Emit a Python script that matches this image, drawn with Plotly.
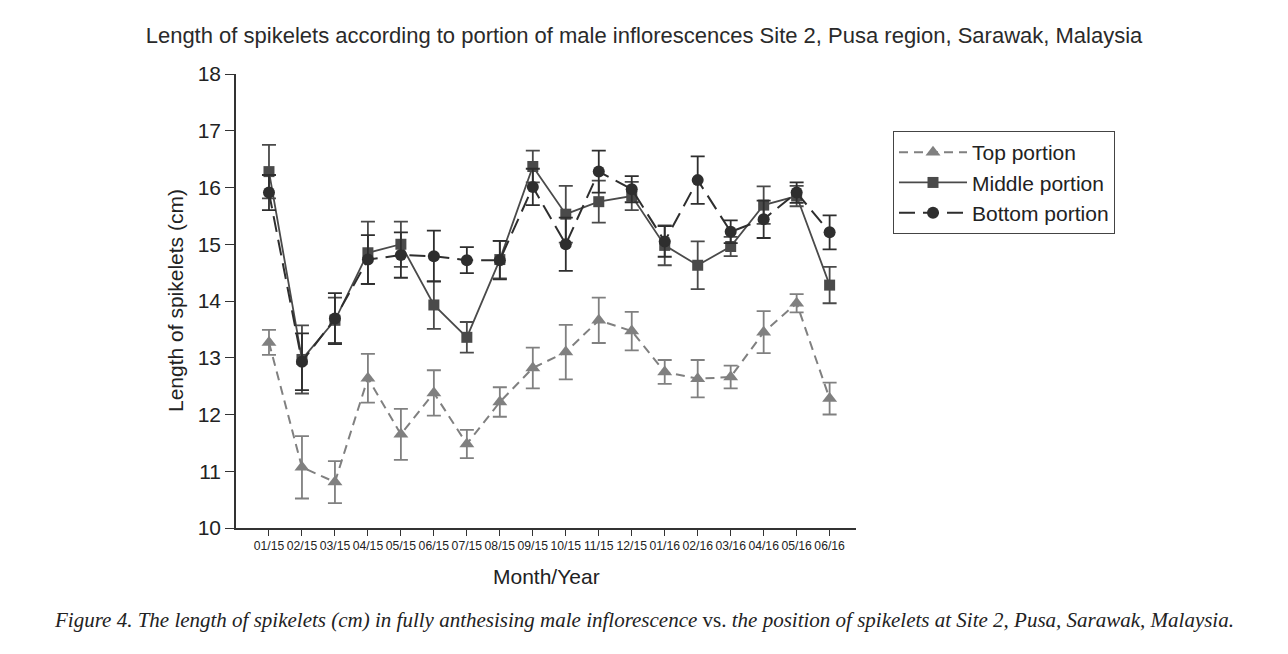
import plotly.graph_objects as go

months = ["01/15", "02/15", "03/15", "04/15", "05/15", "06/15", "07/15", "08/15", "09/15",
          "10/15", "11/15", "12/15", "01/16", "02/16", "03/16", "04/16", "05/16", "06/16"]

top = [13.27, 11.07, 10.81, 12.64, 11.65, 12.38, 11.48, 12.22, 12.82,
       13.10, 13.66, 13.47, 12.75, 12.63, 12.66, 13.45, 13.96, 12.28]
top_err = [0.22, 0.55, 0.37, 0.43, 0.45, 0.40, 0.25, 0.26, 0.36,
           0.48, 0.40, 0.34, 0.21, 0.33, 0.20, 0.37, 0.16, 0.28]

mid = [16.28, 12.97, 13.66, 14.85, 15.00, 13.93, 13.36, 14.73, 16.37,
       15.53, 15.75, 15.85, 14.98, 14.63, 14.96, 15.69, 15.85, 14.28]
mid_err = [0.47, 0.60, 0.40, 0.55, 0.40, 0.42, 0.27, 0.33, 0.28,
           0.50, 0.37, 0.25, 0.35, 0.42, 0.17, 0.33, 0.18, 0.32]

bot = [15.91, 12.93, 13.69, 14.73, 14.81, 14.79, 14.72, 14.72, 16.01,
       15.00, 16.28, 15.97, 15.05, 16.13, 15.22, 15.44, 15.91, 15.21]
bot_err = [0.31, 0.50, 0.45, 0.43, 0.40, 0.45, 0.23, 0.34, 0.32,
           0.47, 0.37, 0.23, 0.27, 0.42, 0.20, 0.33, 0.18, 0.30]

yticks = [10, 11, 12, 13, 14, 15, 16, 17, 18]

C_TOP = "#808080"
C_MID = "#4a4a4a"
C_BOT = "#2e2e2e"

fig = go.Figure()
fig.add_trace(go.Scatter(
    x=months, y=top, name="Top portion", mode="lines+markers",
    line=dict(color=C_TOP, width=2, dash="9px,6px"),
    marker=dict(symbol="triangle-up", size=13, color=C_TOP),
    error_y=dict(type="data", array=top_err, color=C_TOP, thickness=1.8, width=7),
))
fig.add_trace(go.Scatter(
    x=months, y=mid, name="Middle portion", mode="lines+markers",
    line=dict(color=C_MID, width=1.8),
    marker=dict(symbol="square", size=11, color=C_MID),
    error_y=dict(type="data", array=mid_err, color=C_MID, thickness=1.8, width=7),
))
fig.add_trace(go.Scatter(
    x=months, y=bot, name="Bottom portion", mode="lines+markers",
    line=dict(color=C_BOT, width=2, dash="16px,8px"),
    marker=dict(symbol="circle", size=12, color=C_BOT),
    error_y=dict(type="data", array=bot_err, color=C_BOT, thickness=1.8, width=7),
))

W, H = 1288, 654
L, R, T, B = 236, 432, 74, 126
pw = W - L - R
ph = H - T - B

fig.update_layout(
    width=W, height=H,
    margin=dict(l=L, r=R, t=T, b=B),
    paper_bgcolor="white", plot_bgcolor="white",
    font=dict(family="Liberation Sans, Arial, sans-serif", color="#222"),
    title=dict(
        text="Length of spikelets according to portion of male inflorescences Site 2, Pusa region, Sarawak, Malaysia",
        x=0.5, xref="container", xanchor="center",
        y=1 - 35 / H, yref="container", yanchor="middle",
        font=dict(size=22, color="#2a2a2a"),
    ),
    xaxis=dict(
        range=[-1, 17.8], showgrid=False, zeroline=False,
        showline=True, linecolor="#333", linewidth=1.5,
        ticks="outside", ticklen=6, tickwidth=1.3, tickcolor="#333",
        tickfont=dict(size=12.2, color="#222"),
        tickangle=0,
    ),
    yaxis=dict(
        range=[10, 18], tickvals=yticks, showgrid=False, zeroline=False,
        showline=True, linecolor="#333", linewidth=1.5,
        ticks="outside", ticklen=9, tickwidth=1.3, tickcolor="#333",
        tickfont=dict(size=21, color="#222"),
    ),
    legend=dict(
        x=(893 - L) / pw, y=(528 - 131) / ph, xanchor="left", yanchor="top",
        bordercolor="#444", borderwidth=1, bgcolor="white",
        font=dict(size=21, color="#222"),
        itemwidth=68, tracegroupgap=0,
    ),
    showlegend=True,
)

fig.add_annotation(
    text="Length of spikelets (cm)", textangle=-90,
    xref="paper", yref="paper", x=(175 - L) / pw, y=0.5,
    xanchor="center", yanchor="middle", showarrow=False,
    font=dict(size=21, color="#222"),
)
fig.add_annotation(
    text="Month/Year",
    xref="paper", yref="paper", x=0.5, y=(528 - 576) / ph,
    xanchor="center", yanchor="middle", showarrow=False,
    font=dict(size=21, color="#222"),
)
fig.add_annotation(
    text="<i>Figure 4. The length of spikelets (cm) in fully anthesising male inflorescence</i> vs. "
         "<i>the position of spikelets at Site 2, Pusa, Sarawak, Malaysia.</i>",
    xref="paper", yref="paper", x=(644 - L) / pw, y=(528 - 620) / ph,
    xanchor="center", yanchor="middle", showarrow=False,
    font=dict(size=21, color="#222", family="Liberation Serif, Times New Roman, serif"),
)

fig.write_html("out.html")
